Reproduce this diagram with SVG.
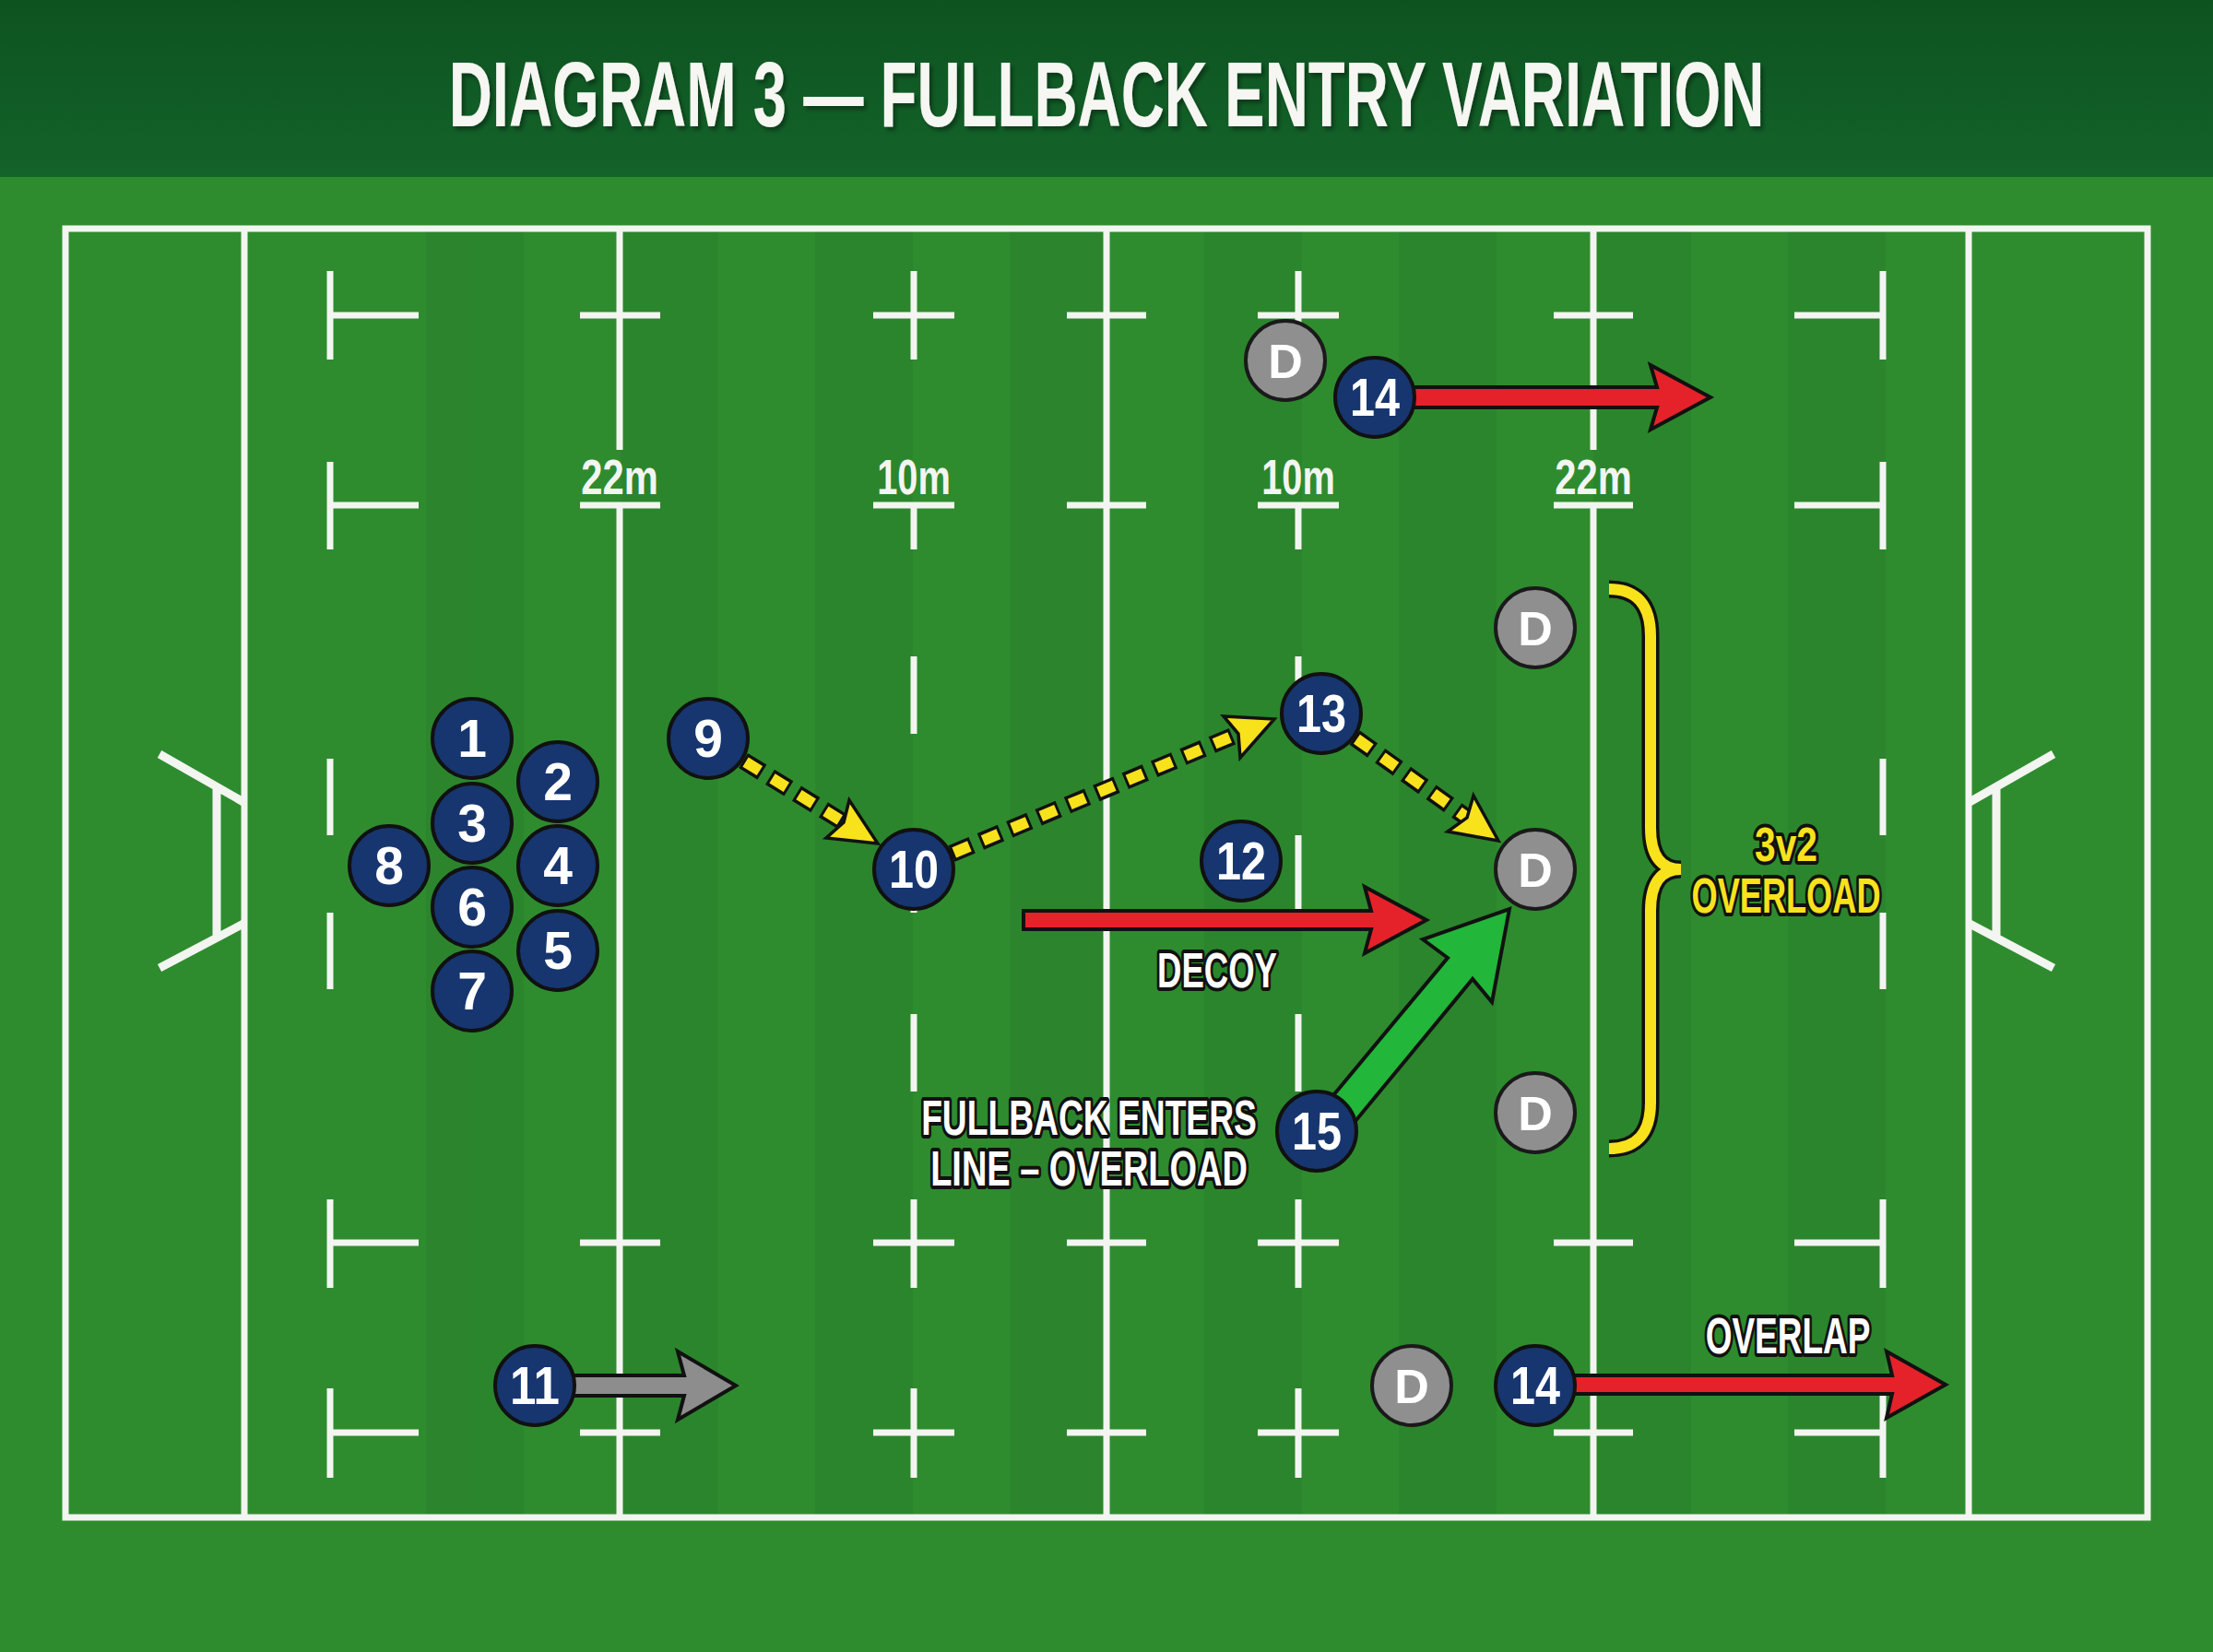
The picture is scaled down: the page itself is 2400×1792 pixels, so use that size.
<svg xmlns="http://www.w3.org/2000/svg" width="2400" height="1792" viewBox="0 0 2400 1792">
<defs>
<linearGradient id="hdr" x1="0" y1="0" x2="0" y2="1"><stop offset="0" stop-color="#0d5320"/><stop offset="1" stop-color="#14632a"/></linearGradient>
<filter id="sh" x="-5%" y="-20%" width="110%" height="140%"><feDropShadow dx="3" dy="4" stdDeviation="2" flood-color="#000" flood-opacity="0.35"/></filter>
</defs>
<style>
.ln{stroke:#f3f5f1;stroke-width:7;fill:none}
.gp{stroke:#f3f5f1;stroke-width:9;fill:none}
.mk{font-family:"Liberation Sans",Arial,sans-serif;font-weight:bold;font-size:54px;fill:#f3f5f1;text-anchor:middle}
.pl circle{fill:#173670;stroke:#111;stroke-width:4}
.df circle{fill:#8f8f8f;stroke:#1a1a1a;stroke-width:4}
.num{font-family:"Liberation Sans",Arial,sans-serif;font-weight:bold;font-size:57px;fill:#fff;text-anchor:middle}
.dn{font-family:"Liberation Sans",Arial,sans-serif;font-weight:bold;font-size:52px;fill:#fff;text-anchor:middle}
.out{font-family:"Liberation Sans",Arial,sans-serif;font-weight:bold;text-anchor:middle;stroke:#111;stroke-width:8;paint-order:stroke;stroke-linejoin:round}
.arw{stroke:#111;stroke-width:4;stroke-linejoin:miter}
.red{fill:#e5222a}
.dshb{stroke:#111;stroke-width:19;fill:none;stroke-dasharray:24 10}
.dshy{stroke:#f8e21c;stroke-width:12;fill:none;stroke-dasharray:18 16;stroke-dashoffset:-3}
.yh{fill:#f8e21c;stroke:#111;stroke-width:3.5;stroke-linejoin:miter}
</style>

<rect x="0" y="0" width="2400" height="1792" fill="#2e8c2f"/>
<g id="stripes" fill="#000" opacity="0.045">
<rect x="462" y="248" width="106" height="1398"/>
<rect x="673" y="248" width="106" height="1398"/>
<rect x="884" y="248" width="106" height="1398"/>
<rect x="1095" y="248" width="106" height="1398"/>
<rect x="1306" y="248" width="106" height="1398"/>
<rect x="1517" y="248" width="106" height="1398"/>
<rect x="1728" y="248" width="106" height="1398"/>
<rect x="1939" y="248" width="106" height="1398"/>
</g>
<rect x="0" y="0" width="2400" height="192" fill="url(#hdr)"/>
<g id="title" filter="url(#sh)">
<text transform="translate(1200,137) scale(0.653,1)" x="0" y="0" font-family="Liberation Sans, Arial, sans-serif" font-weight="bold" font-size="100" text-anchor="middle" fill="#f6f6f2">DIAGRAM 3 — FULLBACK ENTRY VARIATION</text>
</g>

<g id="pitch">
<rect class="ln" x="71" y="248" width="2258" height="1398"/>
<path class="ln" d="M265,248V1646M2135,248V1646M1200,248V1646M672,248V488M672,548V1646M1728,248V488M1728,548V1646"/>
<path class="ln" d="M629,342H716M629,548H716M629,1348H716M629,1554H716M1685,342H1771M1685,548H1771M1685,1348H1771M1685,1554H1771M1157,342H1243M1157,548H1243M1157,1348H1243M1157,1554H1243"/>
<path class="ln" d="M991,294V390M991,548V596M991,712V796M991,906V990M991,1100V1184M991,1301V1397M991,1506V1603M947,342H1035M947,548H1035M947,1348H1035M947,1554H1035"/>
<path class="ln" d="M1408,294V390M1408,548V596M1408,712V796M1408,906V990M1408,1100V1184M1408,1301V1397M1408,1506V1603M1364,342H1452M1364,548H1452M1364,1348H1452M1364,1554H1452"/>
<path class="ln" d="M358,294V390M358,501V596M358,823V906M358,990V1073M358,1301V1397M358,1506V1603M358,342H454M358,548H454M358,1348H454M358,1554H454"/>
<path class="ln" d="M2042,294V390M2042,501V596M2042,823V906M2042,990V1073M2042,1301V1397M2042,1506V1603M2042,342H1946M2042,548H1946M2042,1348H1946M2042,1554H1946"/>
<path class="gp" d="M173,818L264,870M264,1002L173,1050M235,853V1018"/>
<path class="gp" d="M2227,818L2136,870M2136,1002L2227,1050M2165,853V1018"/>
<text class="mk" transform="translate(672,536) scale(0.773,1)">22m</text>
<text class="mk" transform="translate(991,536) scale(0.737,1)">10m</text>
<text class="mk" transform="translate(1408,536) scale(0.737,1)">10m</text>
<text class="mk" transform="translate(1728,536) scale(0.773,1)">22m</text>
</g>

<g id="connectors">
<polygon class="arw red" points="1500,420 1797,420 1790,396 1855,431 1790,466 1797,442 1500,442"/>
<polygon class="arw red" points="1110,988 1487,988 1480,962 1547,998 1480,1034 1487,1008 1110,1008"/>
<polygon class="arw red" points="1680,1492 2052,1492 2046,1466 2110,1502 2046,1538 2052,1512 1680,1512"/>
<polygon class="arw" fill="#8d8d8d" points="600,1492 742,1492 735,1466 798,1503 735,1540 742,1514 600,1514"/>
<polygon class="arw" fill="#22b63a" points="1442,1193 1570,1039 1543,1019 1637,986 1618,1087 1597,1062 1470,1216"/>
<path class="dshb" d="M806,825L915,892"/>
<path class="dshy" d="M806,825L915,892"/>
<polygon class="yh" points="952,915 896,909 915,892 921,868"/>
<path class="dshb" d="M1032,926L1343,796"/>
<path class="dshy" d="M1032,926L1343,796"/>
<polygon class="yh" points="1382,780 1345,822 1343,796 1327,777"/>
<path class="dshb" d="M1469,800L1591,887"/>
<path class="dshy" d="M1469,800L1591,887"/>
<polygon class="yh" points="1625,912 1570,902 1591,887 1598,863"/>
<path d="M1745,639Q1790,639 1790,690V898Q1790,943 1823,943Q1790,943 1790,988V1196Q1790,1246 1745,1246" fill="none" stroke="#111" stroke-width="19"/>
<path d="M1745,639Q1790,639 1790,690V898Q1790,943 1823,943Q1790,943 1790,988V1196Q1790,1246 1745,1246" fill="none" stroke="#f8e21c" stroke-width="12"/>
</g>

<g id="p1" class="pl"><circle cx="512" cy="801" r="43"/><text class="num" x="512" y="821">1</text></g>
<g id="p2" class="pl"><circle cx="605" cy="848" r="43"/><text class="num" x="605" y="868">2</text></g>
<g id="p3" class="pl"><circle cx="512" cy="893" r="43"/><text class="num" x="512" y="913">3</text></g>
<g id="p4" class="pl"><circle cx="605" cy="939" r="43"/><text class="num" x="605" y="959">4</text></g>
<g id="p8" class="pl"><circle cx="422" cy="939" r="43"/><text class="num" x="422" y="959">8</text></g>
<g id="p6" class="pl"><circle cx="512" cy="984" r="43"/><text class="num" x="512" y="1004">6</text></g>
<g id="p5" class="pl"><circle cx="605" cy="1031" r="43"/><text class="num" x="605" y="1051">5</text></g>
<g id="p7" class="pl"><circle cx="512" cy="1075" r="43"/><text class="num" x="512" y="1095">7</text></g>
<g id="p9" class="pl"><circle cx="768" cy="801" r="43"/><text class="num" x="768" y="821">9</text></g>
<g id="p10" class="pl"><circle cx="991" cy="943" r="43"/><text class="num" x="991" y="963" textLength="54" lengthAdjust="spacingAndGlyphs">10</text></g>
<g id="p12" class="pl"><circle cx="1346" cy="934" r="43"/><text class="num" x="1346" y="954" textLength="54" lengthAdjust="spacingAndGlyphs">12</text></g>
<g id="p13" class="pl"><circle cx="1433" cy="774" r="43"/><text class="num" x="1433" y="794" textLength="54" lengthAdjust="spacingAndGlyphs">13</text></g>
<g id="p15" class="pl"><circle cx="1428" cy="1227" r="43"/><text class="num" x="1428" y="1247" textLength="54" lengthAdjust="spacingAndGlyphs">15</text></g>
<g id="p11" class="pl"><circle cx="580" cy="1503" r="43"/><text class="num" x="580" y="1523" textLength="54" lengthAdjust="spacingAndGlyphs">11</text></g>
<g id="p14a" class="pl"><circle cx="1491" cy="431" r="43"/><text class="num" x="1491" y="451" textLength="54" lengthAdjust="spacingAndGlyphs">14</text></g>
<g id="p14b" class="pl"><circle cx="1665" cy="1503" r="43"/><text class="num" x="1665" y="1523" textLength="54" lengthAdjust="spacingAndGlyphs">14</text></g>

<g id="d1" class="df"><circle cx="1394" cy="391" r="43"/><text class="dn" x="1394" y="410">D</text></g>
<g id="d2" class="df"><circle cx="1665" cy="681" r="43"/><text class="dn" x="1665" y="700">D</text></g>
<g id="d3" class="df"><circle cx="1665" cy="943" r="43"/><text class="dn" x="1665" y="962">D</text></g>
<g id="d4" class="df"><circle cx="1665" cy="1207" r="43"/><text class="dn" x="1665" y="1226">D</text></g>
<g id="d5" class="df"><circle cx="1531" cy="1503" r="43"/><text class="dn" x="1531" y="1522">D</text></g>

<g id="labels">
<text class="out" transform="translate(1320,1071) scale(0.677,1)" font-size="54" fill="#fff">DECOY</text>
<text class="out" transform="translate(1181,1231) scale(0.689,1)" font-size="54" fill="#fff">FULLBACK ENTERS</text>
<text class="out" transform="translate(1181,1286) scale(0.703,1)" font-size="54" fill="#fff">LINE – OVERLOAD</text>
<text class="out" transform="translate(1939,1468) scale(0.66,1)" font-size="56" fill="#fff">OVERLAP</text>
<text class="out" transform="translate(1937,934) scale(0.784,1)" font-size="52" fill="#f8e21c">3v2</text>
<text class="out" transform="translate(1937,990) scale(0.67,1)" font-size="54" fill="#f8e21c">OVERLOAD</text>
</g>
</svg>
